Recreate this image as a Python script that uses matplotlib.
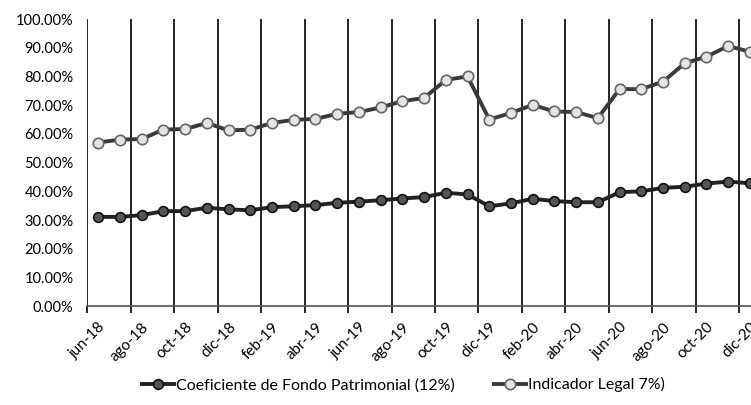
import matplotlib
matplotlib.use("Agg")
import matplotlib.pyplot as plt
from matplotlib.ticker import FuncFormatter
import numpy as np

plt.rcParams['font.family'] = ['Lato', 'DejaVu Sans']

months = ['jun-18', 'jul-18', 'ago-18', 'sep-18', 'oct-18', 'nov-18', 'dic-18',
          'ene-19', 'feb-19', 'mar-19', 'abr-19', 'may-19', 'jun-19', 'jul-19',
          'ago-19', 'sep-19', 'oct-19', 'nov-19', 'dic-19', 'ene-20', 'feb-20',
          'mar-20', 'abr-20', 'may-20', 'jun-20', 'jul-20', 'ago-20', 'sep-20',
          'oct-20', 'nov-20', 'dic-20']

# Coeficiente de Fondo Patrimonial (12%)
coeficiente = [31.1, 31.1, 31.7, 33.1, 33.1, 34.3, 33.7, 33.4, 34.5, 34.8, 35.2,
               36.0, 36.4, 36.9, 37.5, 38.0, 39.5, 38.9, 34.8, 35.8, 37.4, 36.6,
               36.2, 36.2, 39.7, 40.0, 41.2, 41.6, 42.7, 43.4, 42.8]

# Indicador Legal 7%
indicador = [57.0, 58.0, 58.2, 61.5, 61.7, 63.8, 61.2, 61.5, 63.8, 64.9, 65.2,
             67.0, 67.6, 69.2, 71.4, 72.5, 78.8, 80.0, 65.0, 67.3, 70.1, 67.8,
             67.6, 65.5, 75.6, 75.6, 78.2, 84.6, 86.9, 90.6, 88.6]

x = np.arange(len(months))

fig = plt.figure(figsize=(7.51, 4.05), dpi=100)
ax = fig.add_axes([0.1164, 0.244, 0.8836, 0.709])

ax.plot(x, np.array(coeficiente) / 100, color='#222222', lw=2.8,
        marker='o', ms=7, mfc='#555555', mec='#111111', mew=1.2,
        label='Coeficiente de Fondo Patrimonial (12%)', zorder=3)
ax.plot(x, np.array(indicador) / 100, color='#3a3a3a', lw=2.8,
        marker='o', ms=7.5, mfc='#e4e4e4', mec='#666666', mew=1.2,
        label='Indicador Legal 7%)', zorder=3)

# vertical grid at category boundaries, every second month
for b in range(0, len(months), 2):
    ax.axvline(b - 0.5, color='black', lw=1.2, zorder=1)

ax.set_xlim(-0.5, 30.05)
ax.set_ylim(0, 1.0)
ax.set_yticks(np.arange(0, 1.01, 0.1))
ax.yaxis.set_major_formatter(FuncFormatter(lambda v, p: f'{v*100:.2f}%'))
ax.tick_params(axis='y', length=0, labelsize=10.5, pad=10)

ax.set_xticks(x[::2])
ax.set_xticklabels(months[::2], rotation=45, ha='right', rotation_mode='anchor',
                   fontsize=11)
ax.set_xticks(np.arange(-0.5, 30.5, 2), minor=True)
ax.tick_params(axis='x', which='major', length=0, pad=10)
ax.tick_params(axis='x', which='minor', length=5, width=1.2, direction='out')

for s in ['top', 'right', 'left']:
    ax.spines[s].set_visible(False)
ax.spines['bottom'].set_color('#555555')
ax.spines['bottom'].set_linewidth(1.2)

fig.legend(loc='center', bbox_to_anchor=(0.537, 0.05), ncol=2, frameon=False,
           fontsize=11.5, handlelength=2.0, handletextpad=0.1, columnspacing=2.5)

fig.savefig('out.png', dpi=100)
